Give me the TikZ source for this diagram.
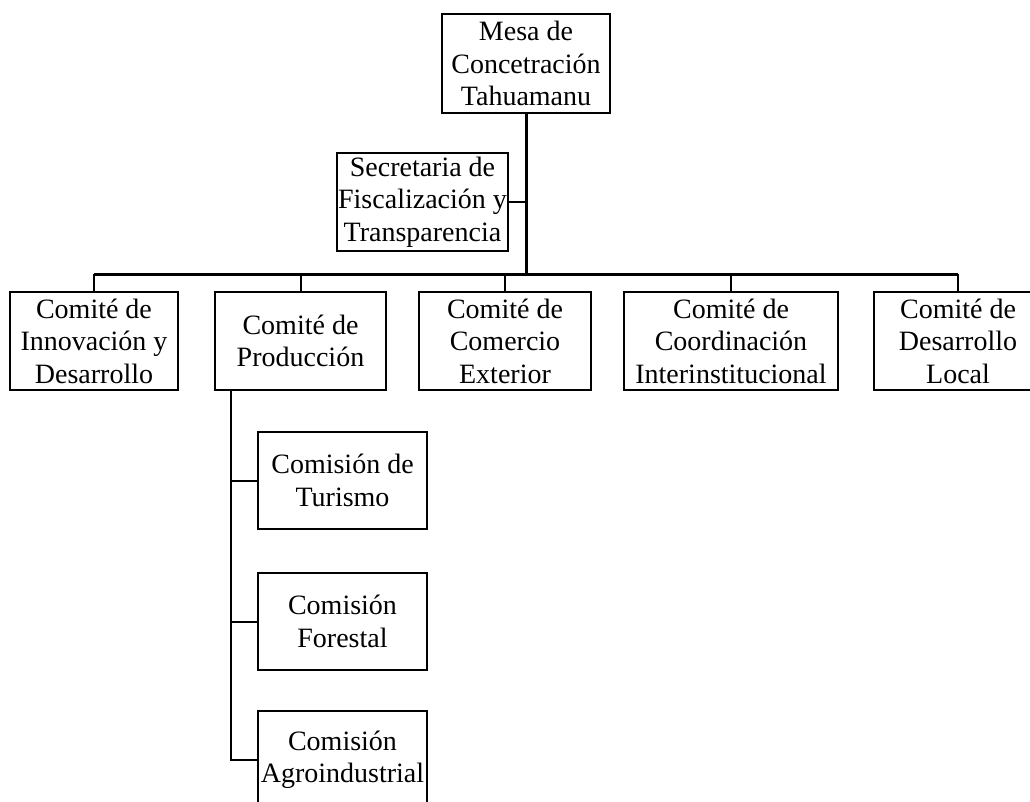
\documentclass[tikz,border=0pt]{standalone}
\usepackage{fontspec}
\setmainfont{Liberation Serif}
\usetikzlibrary{positioning}
\usetikzlibrary{calc}
\tikzset{box/.style={draw, rectangle, line width=2pt, align=center, inner sep=1.5pt, minimum height=98pt, font=\fontsize{28}{32.5}\selectfont}}
\tikzset{con/.style={line width=2pt}}
\tikzset{trunk/.style={line width=3pt}}

\begin{document}
\begin{tikzpicture}[x=1pt,y=-1pt]
\useasboundingbox (0,0) rectangle (1030,802);

\node[box, minimum width=168pt, minimum height=99pt] (mesa) at (526,63.5) {Mesa de\\Concetración\\Tahuamanu};
\node[box, minimum width=171pt] (secr) at (422.5,202) {Secretaria de\\Fiscalización y\\Transparencia};

\node[box, minimum width=168pt] (innov) at (94,341) {Comité de\\Innovación y\\Desarrollo};
\node[box, minimum width=171pt] (prod) [right = 35pt of innov] {Comité de\\Producción};
\node[box, minimum width=172pt] (comer) [right = 31pt of prod] {Comité de\\Comercio\\Exterior};
\node[box, minimum width=214pt] (coord) [right = 31pt of comer] {Comité de\\Coordinación\\Interinstitucional};
\node[box, minimum width=168pt] (local) [right = 34pt of coord] {Comité de\\Desarrollo\\Local};

\node[box, minimum width=169pt, minimum height=97pt] (tur) at (342.5,480.5) {Comisión de\\Turismo};
\node[box, minimum width=169pt, minimum height=97pt] (fore) [below = 42pt of tur] {Comisión\\Forestal};
\node[box, minimum width=169pt] (agro) [below = 39pt of fore] {Comisión\\Agroindustrial};

\coordinate (bus) at ($(mesa.south)+(0,160)$);
\coordinate (pbase) at ([xshift=17pt]prod.south west);

\draw[trunk] (mesa) -- (bus);
\draw[con] (secr) -- (secr -| mesa);
\draw[trunk] (innov.north |- bus) -- (local.north |- bus);
\foreach \n in {innov,prod,comer,coord,local}
  \draw[con] (\n.north |- bus) -- (\n);

\draw[con] (pbase) |- (agro);
\foreach \n in {tur,fore}
  \draw[con] (pbase |- \n) -- (\n);
\end{tikzpicture}
\end{document}
